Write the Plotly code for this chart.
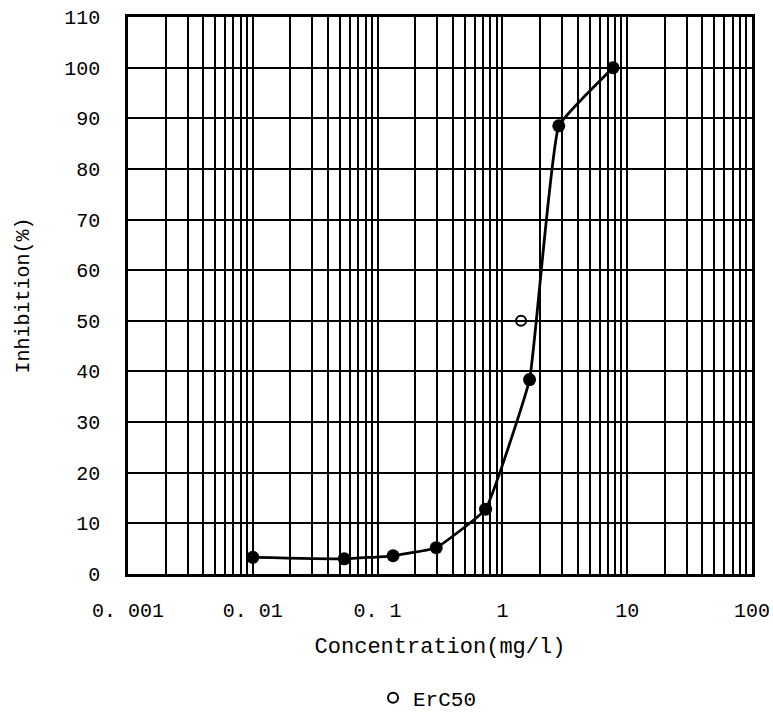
import plotly.graph_objects as go

# Data
conc = [0.01, 0.054, 0.133, 0.295, 0.733, 1.65, 2.83, 7.7]
inhibition = [3.3, 3.0, 3.6, 5.2, 12.8, 38.4, 88.5, 100.0]
erc50_conc = [1.41]
erc50_inh = [50.0]

x_tickvals = [0.001, 0.01, 0.1, 1, 10, 100]
x_ticktext = ["0. 001", "0. 01", "0. 1", "1", "10", "100"]
y_tickvals = list(range(0, 111, 10))

minor_vals = [k * 10 ** e for e in range(-3, 2) for k in range(2, 10)]

FONT = "Liberation Mono"

fig = go.Figure()
fig.add_trace(go.Scatter(
    x=conc, y=inhibition, mode="lines+markers",
    line=dict(color="black", width=2.8, shape="spline", smoothing=0.3),
    marker=dict(color="black", size=13),
    showlegend=False,
))
fig.add_trace(go.Scatter(
    x=erc50_conc, y=erc50_inh, mode="markers", name="ErC50",
    marker=dict(symbol="circle-open", color="black", size=10, line=dict(width=2)),
))

fig.update_layout(
    width=773, height=712,
    margin=dict(l=128, r=21, t=17, b=138, autoexpand=False),
    paper_bgcolor="white", plot_bgcolor="white",
    font=dict(family=FONT, color="black", size=20),
    legend=dict(orientation="h", x=0.48, xanchor="center", y=-0.223, yanchor="middle",
                font=dict(size=21, family=FONT), itemwidth=30),
)
fig.update_xaxes(
    type="log", range=[-3, 2], automargin=False,
    tickvals=x_tickvals, ticktext=x_ticktext,
    showgrid=True, gridcolor="black", gridwidth=2,
    minor=dict(tickvals=minor_vals, showgrid=True, gridcolor="black", gridwidth=1.7, ticks=""),
    showline=True, linecolor="black", linewidth=2.5, mirror=True,
    ticks="", ticklabelstandoff=16,
    tickfont=dict(size=20, family=FONT),
    title=dict(text="Concentration(mg/l)", font=dict(size=22, family=FONT), standoff=16),
    zeroline=False,
)
fig.update_yaxes(
    range=[0, 110], tickvals=y_tickvals, automargin=False,
    showgrid=True, gridcolor="black", gridwidth=2,
    showline=True, linecolor="black", linewidth=2.5, mirror=True,
    ticks="", ticklabelstandoff=21,
    tickfont=dict(size=20, family=FONT),
    title=dict(text="Inhibition(%)", font=dict(size=20, family=FONT), standoff=30),
    zeroline=False,
)

fig.write_html(
    "out.html",
    config={"displayModeBar": False},
    post_script="document.body.style.margin='0';document.body.style.overflow='hidden';",
)
